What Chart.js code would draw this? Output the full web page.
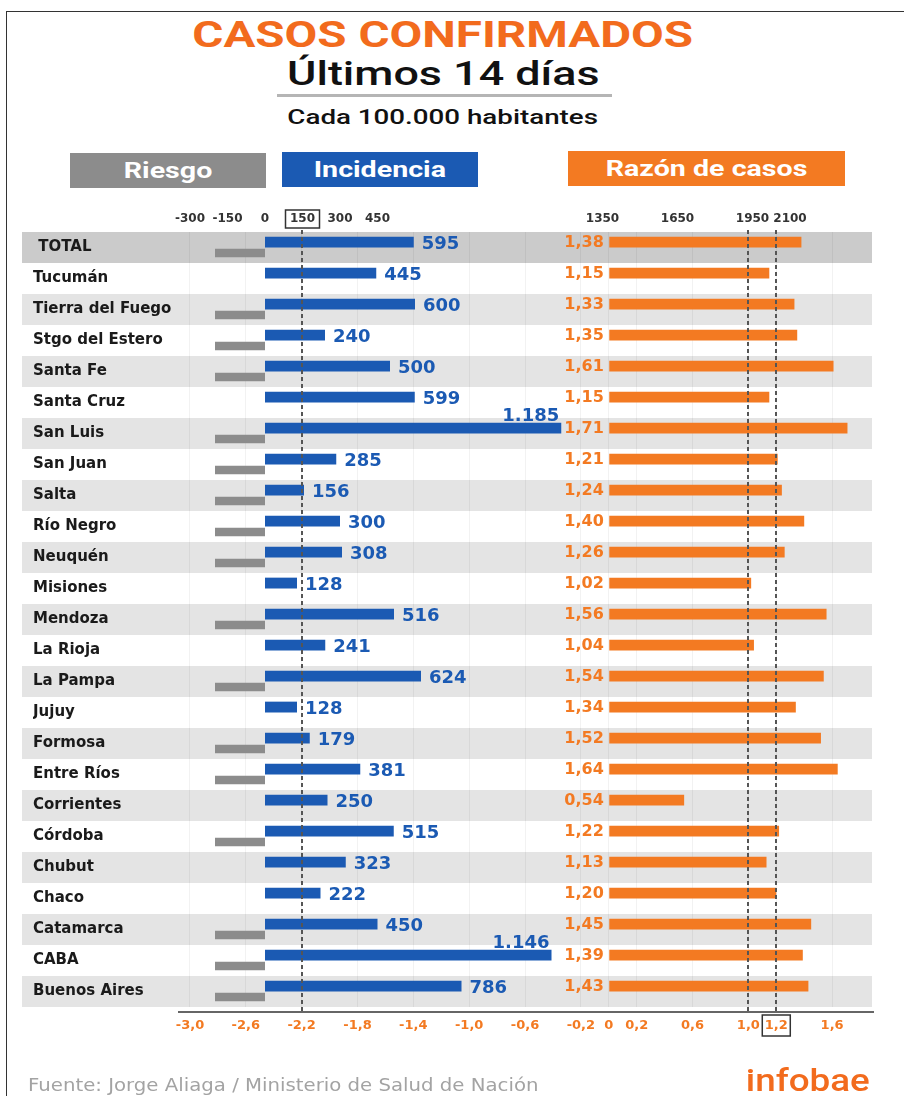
<!DOCTYPE html>
<html>
<head>
<meta charset="utf-8">
<script src="https://cdn.jsdelivr.net/npm/chart.js@4.4.1/dist/chart.umd.min.js"></script>
<style>
  body { margin: 0; background: #fff; }
  #wrap { position: relative; width: 904px; height: 1096px; overflow: hidden; }
  #frame { position: absolute; left: 6px; top: 11px; width: 898px; height: 1085px;
           border-top: 1.5px solid #333; border-left: 1.5px solid #333; }
  .hdr { position: absolute; left: 0; width: 886px; text-align: center; line-height: 1;
         font-family: Roboto, sans-serif; white-space: nowrap; }
  .hdr span { display: inline-block; transform: scaleX(1.32); }
  .box { position: absolute; height: 35px; display: flex; align-items: center; justify-content: center;
         color: #fff; font: 700 22px Roboto, sans-serif; line-height: 1; }
  .box span { display: inline-block; transform: scaleX(1.3); }
  canvas { position: absolute; left: 0; top: 0; }
</style>
</head>
<body>
<div id="wrap">
  <div id="frame"></div>
  <div class="hdr" style="top:17px; font-size:36px; font-weight:700; color:#f26b1d;"><span>CASOS CONFIRMADOS</span></div>
  <div class="hdr" style="top:56px; font-size:34px; font-weight:500; color:#111;"><span>Últimos 14 días</span></div>
  <div style="position:absolute; left:277px; top:94px; width:335px; height:3px; background:#b5b5b5;"></div>
  <div class="hdr" style="top:107px; font-size:21px; font-weight:500; color:#111;"><span>Cada 100.000 habitantes</span></div>

  <div class="box" style="left:70px; top:153px; width:196px; background:#8c8c8c;"><span>Riesgo</span></div>
  <div class="box" style="left:282px; top:152px; width:196px; background:#1b5ab3;"><span>Incidencia</span></div>
  <div class="box" style="left:568px; top:151px; width:277px; background:#f37a22;"><span>Razón de casos</span></div>

  <canvas id="chart" width="904" height="1096"></canvas>

  <div style="position:absolute; left:28px; top:1075px; font:17px 'DejaVu Sans', sans-serif; color:#a3a3a3; white-space:nowrap; transform:scaleX(1.16); transform-origin:left;">Fuente: Jorge Aliaga / Ministerio de Salud de Nación</div>
  <div style="position:absolute; right:34px; top:1064px; font:500 32px Roboto, sans-serif; line-height:1; color:#f26b1d; transform:scaleX(1.15); transform-origin:right;">infobae</div>
</div>

<script>
// data
const provinces = ['TOTAL', 'Tucumán', 'Tierra del Fuego', 'Stgo del Estero', 'Santa Fe', 'Santa Cruz',
    'San Luis', 'San Juan', 'Salta', 'Río Negro', 'Neuquén', 'Misiones', 'Mendoza', 'La Rioja',
    'La Pampa', 'Jujuy', 'Formosa', 'Entre Ríos', 'Corrientes', 'Córdoba', 'Chubut', 'Chaco',
    'Catamarca', 'CABA', 'Buenos Aires'];
const incidencia = [595, 445, 600, 240, 500, 599, 1185, 285, 156, 300, 308, 128, 516, 241,
    624, 128, 179, 381, 250, 515, 323, 222, 450, 1146, 786];
const razon = [1.38, 1.15, 1.33, 1.35, 1.61, 1.15, 1.71, 1.21, 1.24, 1.40, 1.26, 1.02, 1.56, 1.04,
    1.54, 1.34, 1.52, 1.64, 0.54, 1.22, 1.13, 1.20, 1.45, 1.39, 1.43];
const riesgo = [-200, null, -200, -200, -200, null, -200, -200, -200, -200, -200, null, -200, null,
    -200, null, -200, -200, null, -200, null, null, -200, -200, -200];
const topTicks = [-300, -150, 0, 150, 300, 450, 1350, 1650, 1950, 2100];
const bottomTicks = [-3.0, -2.6, -2.2, -1.8, -1.4, -1.0, -0.6, -0.2, 0, 0.2, 0.6, 1.0, 1.2, 1.6];
const refLines = [-2.2, 1.0, 1.2];

const BLUE = '#1b5ab3';
const ORANGE = '#f37a22';
const GREY = '#8c8c8c';

function fmtInc(v) {
    if (v >= 1000) return Math.floor(v / 1000) + '.' + String(v % 1000).padStart(3, '0');
    return String(v);
}
function fmtRatio(v, d) {
    if (v === 0) return '0';
    return v.toFixed(d).replace('.', ',');
}

Chart.defaults.font.family = "'DejaVu Sans', sans-serif";

// alternating row stripes
const stripes = {
    id: 'stripes',
    beforeDraw(chart) {
        const ctx = chart.ctx;
        const y = chart.scales.y;
        const h = y.getPixelForValue(1) - y.getPixelForValue(0);
        provinces.forEach((p, i) => {
            let c = null;
            if (i === 0) c = '#cbcbcb';
            else if (i % 2 === 0) c = '#e4e4e4';
            if (!c) return;
            ctx.fillStyle = c;
            ctx.fillRect(22, y.getPixelForValue(i) - h / 2, 850, h);
        });
    }
};

// values, dashed reference lines, axis line, boxed ticks
const overlay = {
    id: 'overlay',
    afterDatasetsDraw(chart) {
        const ctx = chart.ctx;
        const area = chart.chartArea;
        const x = chart.scales.x;
        const x2 = chart.scales.x2;
        ctx.save();

        // dashed lines
        ctx.strokeStyle = '#555';
        ctx.lineWidth = 2;
        ctx.setLineDash([4, 3]);
        refLines.forEach(v => {
            const px = Math.round(x.getPixelForValue(v));
            ctx.beginPath();
            ctx.moveTo(px, area.top - 2);
            ctx.lineTo(px, area.bottom + 5);
            ctx.stroke();
        });
        ctx.setLineDash([]);

        // bottom axis line
        ctx.strokeStyle = '#333';
        ctx.lineWidth = 1.5;
        ctx.beginPath();
        ctx.moveTo(area.left + 2, area.bottom + 5);
        ctx.lineTo(area.right, area.bottom + 5);
        ctx.stroke();

        // blue labels
        ctx.font = "bold 18px 'DejaVu Sans'";
        ctx.fillStyle = BLUE;
        chart.getDatasetMeta(0).data.forEach((bar, i) => {
            const v = incidencia[i];
            if (v >= 1000) {
                ctx.textAlign = 'right';
                ctx.textBaseline = 'bottom';
                ctx.fillText(fmtInc(v), bar.x - 2, bar.y - bar.height / 2 + 3);
            } else {
                ctx.textAlign = 'left';
                ctx.textBaseline = 'middle';
                ctx.fillText(fmtInc(v), bar.x + 8, bar.y + 2);
            }
        });

        // orange labels
        ctx.font = "bold 16px 'DejaVu Sans'";
        ctx.fillStyle = ORANGE;
        ctx.textAlign = 'right';
        ctx.textBaseline = 'middle';
        chart.getDatasetMeta(2).data.forEach((bar, i) => {
            ctx.fillText(fmtRatio(razon[i], 2), x.getPixelForValue(0) - 5, bar.y + 1);
        });

        // boxed ticks
        ctx.strokeStyle = '#333';
        ctx.lineWidth = 1.5;
        const bx = x.getPixelForValue(1.2);
        ctx.strokeRect(bx - 14, area.bottom + 8, 28, 21);
        const tx = x2.getPixelForValue(150);
        ctx.strokeRect(tx - 17, area.top - 22, 34, 18);
        ctx.restore();
    }
};

new Chart(document.getElementById('chart'), {
    type: 'bar',
    data: {
        labels: provinces,
        datasets: [{
            label: 'Incidencia',
            data: incidencia,
            xAxisID: 'x2',
            stack: 'a',
            backgroundColor: BLUE,
            barPercentage: 1.0,
            categoryPercentage: 0.7
        }, {
            label: 'Riesgo',
            data: riesgo,
            xAxisID: 'x2',
            stack: 'b',
            backgroundColor: GREY,
            barPercentage: 0.78,
            categoryPercentage: 0.7
        }, {
            label: 'Razón de casos',
            data: razon,
            xAxisID: 'x',
            stack: 'a',
            backgroundColor: ORANGE,
            barPercentage: 1.0,
            categoryPercentage: 0.7
        }]
    },
    options: {
        indexAxis: 'y',
        responsive: false,
        animation: false,
        layout: {
            padding: { left: 33, right: 30, top: 210, bottom: 59 }
        },
        plugins: {
            legend: { display: false },
            tooltip: { enabled: false }
        },
        scales: {
            y: {
                grid: { display: false },
                border: { display: false },
                afterFit: s => { s.width = 143; },
                ticks: {
                    crossAlign: 'far',
                    color: '#1a1a1a',
                    font: { size: 15, weight: 'bold' },
                    callback: function (v, i) {
                        return i === 0 ? ' ' + provinces[i] : provinces[i];
                    }
                }
            },
            x: {
                type: 'linear',
                position: 'bottom',
                min: -3.1,
                max: 1.9,
                afterFit: s => { s.height = 30; },
                afterBuildTicks: s => { s.ticks = bottomTicks.map(v => ({ value: v })); },
                grid: { color: 'rgba(0,0,0,0.05)', drawTicks: false },
                border: { display: false },
                ticks: {
                    autoSkip: false,
                    maxRotation: 0,
                    minRotation: 0,
                    padding: 11,
                    color: ORANGE,
                    font: { size: 13, weight: 'bold' },
                    callback: v => fmtRatio(v, 1)
                }
            },
            x2: {
                type: 'linear',
                position: 'top',
                min: -356,
                max: 2436,
                afterFit: s => { s.height = 22; },
                afterBuildTicks: s => { s.ticks = topTicks.map(v => ({ value: v })); },
                grid: { display: false, drawTicks: false },
                border: { display: false },
                ticks: {
                    autoSkip: false,
                    maxRotation: 0,
                    minRotation: 0,
                    padding: 6,
                    color: '#333',
                    font: { size: 12, weight: 'bold' },
                    callback: v => String(v)
                }
            }
        }
    },
    plugins: [stripes, overlay]
});
</script>
</body>
</html>
